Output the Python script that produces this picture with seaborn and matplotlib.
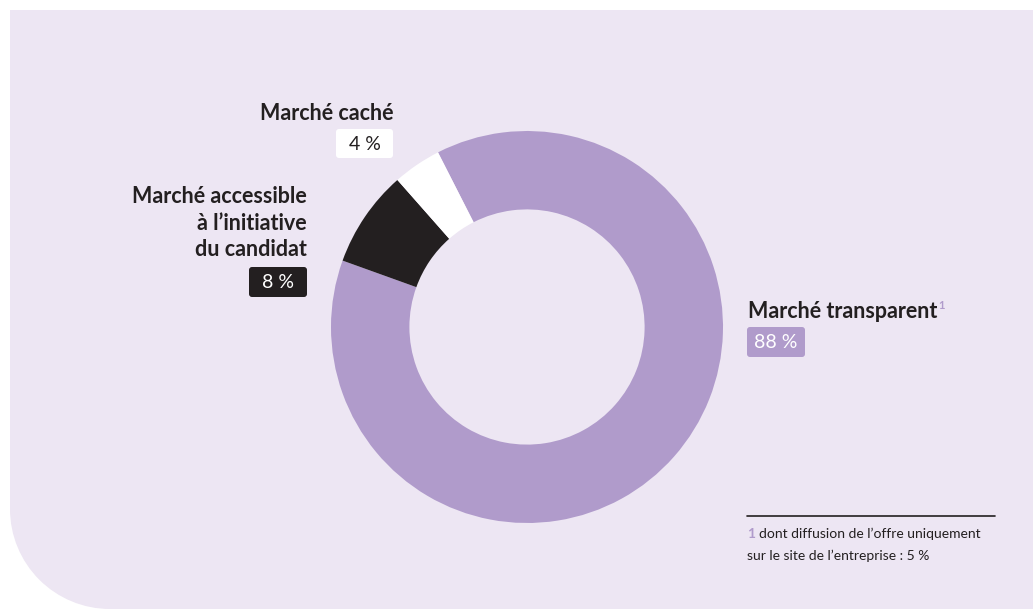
import matplotlib
matplotlib.use("Agg")
import matplotlib.pyplot as plt
import seaborn as sns
from matplotlib.patches import Rectangle, Circle, FancyBboxPatch

# data
categories = ["Marché transparent", "Marché accessible\nà l\u2019initiative\ndu candidat", "Marché caché"]
values = [88, 8, 4]
value_labels = ["88 %", "8 %", "4 %"]
footnote = ["dont diffusion de l\u2019offre uniquement", "sur le site de l\u2019entreprise : 5 %"]

PURPLE = "#b09bcb"
DARK = "#231f20"
BG = "#ede6f3"
colors = sns.color_palette([PURPLE, DARK, "#ffffff"])

sns.set_theme(style="white")
plt.rcParams["font.family"] = ["Lato", "DejaVu Sans"]

W, H = 1033, 609
fig = plt.figure(figsize=(W / 100, H / 100), dpi=100)
fig.patch.set_facecolor("white")

# background panel in pixel coordinates
bg = fig.add_axes([0, 0, 1, 1])
bg.set_xlim(0, W)
bg.set_ylim(H, 0)
bg.axis("off")
bg.add_patch(Rectangle((10, 10), W - 10, H - 10, color=BG, lw=0))
bg.add_patch(Rectangle((10, H - 100), 100, 100, color="white", lw=0))
bg.add_patch(Circle((110, H - 100), 100, color=BG, lw=0))

# donut
cx, cy, r = 527, 327, 196
ax = fig.add_axes([(cx - r) / W, (H - cy - r) / H, 2 * r / W, 2 * r / H])
ax.pie(values, colors=colors, startangle=117, counterclock=False,
       radius=1, wedgeprops=dict(width=0.4, linewidth=0))
ax.set_xlim(-1, 1)
ax.set_ylim(-1, 1)
ax.axis("off")

def value_box(x0, y0, w, h, fc, txt, tc):
    bg.add_patch(FancyBboxPatch((x0, y0), w, h, boxstyle="round,pad=0,rounding_size=3",
                                fc=fc, ec="none", lw=0))
    bg.text(x0 + w / 2, y0 + h / 2 + 1, txt, ha="center", va="center",
            fontsize=14, color=tc)

LABEL_FS = 15.5

# labels
bg.text(393, 113, categories[2], ha="right", va="center", fontsize=LABEL_FS,
        fontweight="bold", color=DARK)
value_box(336, 129, 57, 29, "white", value_labels[2], DARK)

bg.text(307, 223, categories[1], ha="right", va="center", fontsize=LABEL_FS,
        fontweight="bold", color=DARK, linespacing=1.32)
value_box(249, 267, 58, 30, DARK, value_labels[1], "white")

t = bg.text(748, 312, categories[0], ha="left", va="center", fontsize=LABEL_FS,
            fontweight="bold", color=DARK)
bg.annotate("1", xy=(1, 1), xycoords=t, xytext=(1, 1), textcoords="offset points",
            ha="left", va="top", fontsize=8, fontweight="bold", color=PURPLE)
value_box(747, 327, 58, 30, PURPLE, value_labels[0], "white")

# footnote
bg.plot([747, 995], [516, 516], color=DARK, lw=1.2)
bg.text(747, 534, "1", ha="left", va="center", fontsize=10,
        fontweight="bold", color=PURPLE)
bg.text(759, 534, footnote[0], ha="left", va="center", fontsize=10, color=DARK)
bg.text(747, 556, footnote[1], ha="left", va="center", fontsize=10, color=DARK)

fig.savefig("out.png", dpi=100, facecolor="white")
